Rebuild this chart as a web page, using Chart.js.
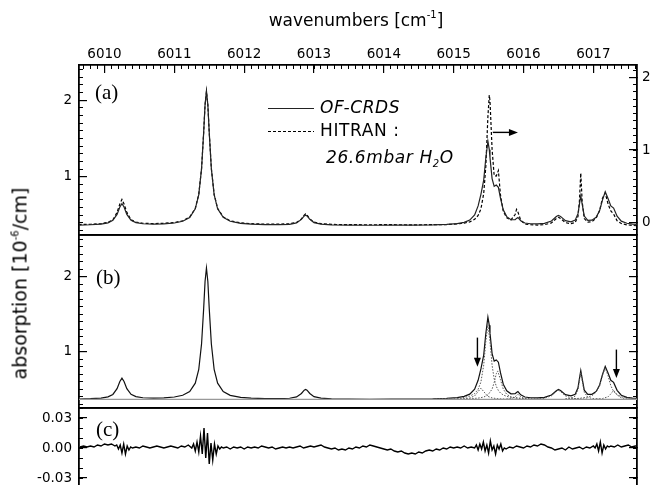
<!DOCTYPE html>
<html>
<head>
<meta charset="utf-8">
<script src="https://cdn.jsdelivr.net/npm/chart.js@4"></script>
<style>
  body { margin: 0; background: #fff; }
  #wrap { position: relative; width: 656px; height: 485px; overflow: hidden;
          font-family: "DejaVu Sans", sans-serif; color: #000; }
  canvas { position: absolute; left: 0; top: 0; }
  .txt { position: absolute; white-space: nowrap; line-height: 1; }
  .serif { font-family: "Liberation Serif", "DejaVu Serif", serif; font-size: 21px; }
  sup { font-size: 10px; vertical-align: 8px; }
  sub { font-size: 10px; vertical-align: -4px; }
  .key { position: absolute; width: 46px; height: 1px; }
  .leg { font-size: 17px; letter-spacing: 0.6px; }
</style>
</head>
<body>
<div id="wrap">
  <canvas id="panelA" width="656" height="485"></canvas>
  <canvas id="panelB" width="656" height="485"></canvas>
  <canvas id="panelC" width="656" height="485"></canvas>

  <div class="txt" style="left:256px;width:200px;top:10px;text-align:center;font-size:17px;">wavenumbers [cm<sup>-1</sup>]</div>
  <div class="txt" style="left:-100px;width:240px;top:274px;text-align:center;font-size:19px;transform:rotate(-90deg);">absorption [10<sup>-6</sup>/cm]</div>

  <div class="txt serif" style="left:95px;top:82px;">(a)</div>
  <div class="txt serif" style="left:96px;top:267px;">(b)</div>
  <div class="txt serif" style="left:96px;top:419px;">(c)</div>

  <div class="key" style="left:268px;top:108px;background:#222;height:1.3px;"></div>
  <div class="txt leg" style="left:320px;top:99px;font-style:italic;">OF-CRDS</div>
  <div class="key" style="left:268px;top:131px;background:repeating-linear-gradient(90deg,#000 0 3px,transparent 3px 5px);height:1.3px;"></div>
  <div class="txt leg" style="left:320px;top:122px;">HITRAN :</div>
  <div class="txt leg" style="left:326px;top:149px;font-style:italic;">26.6mbar H<sub>2</sub>O</div>
</div>

<script>
// wavenumber grid shared by the measured spectrum and the HITRAN simulation
const specX = [6009.63, 6009.8, 6009.95, 6010.05, 6010.12, 6010.18, 6010.22, 6010.25, 6010.28, 6010.32,
  6010.38, 6010.45, 6010.55, 6010.7, 6010.85, 6011.0, 6011.12, 6011.22, 6011.3, 6011.35,
  6011.39, 6011.42, 6011.44, 6011.46, 6011.48, 6011.5, 6011.53, 6011.57, 6011.62, 6011.7,
  6011.8, 6011.95, 6012.1, 6012.3, 6012.5, 6012.65, 6012.75, 6012.82, 6012.86, 6012.88,
  6012.9, 6012.94, 6013.0, 6013.1, 6013.25, 6013.5, 6013.8, 6014.1, 6014.4, 6014.7,
  6014.9, 6015.05, 6015.15, 6015.23, 6015.3, 6015.35, 6015.39, 6015.43, 6015.46, 6015.49,
  6015.51, 6015.52, 6015.55, 6015.58, 6015.61, 6015.64, 6015.67, 6015.71, 6015.76, 6015.82,
  6015.88, 6015.9, 6015.92, 6015.96, 6016.02, 6016.1, 6016.2, 6016.3, 6016.4, 6016.47,
  6016.5, 6016.53, 6016.6, 6016.68, 6016.74, 6016.78, 6016.8, 6016.82, 6016.84, 6016.87,
  6016.92, 6016.98, 6017.04, 6017.09, 6017.13, 6017.17, 6017.21, 6017.25, 6017.29, 6017.34,
  6017.4, 6017.48, 6017.56, 6017.63];

// OF-CRDS absorption, 10^-6/cm (left axis)
const ofcrds = [0.370, 0.374, 0.382, 0.399, 0.431, 0.509, 0.605, 0.649, 0.605, 0.509,
  0.432, 0.402, 0.387, 0.382, 0.386, 0.397, 0.420, 0.469, 0.582, 0.767,
  1.107, 1.577, 1.940, 2.120, 1.940, 1.577, 1.107, 0.767, 0.582, 0.470,
  0.419, 0.392, 0.381, 0.376, 0.375, 0.380, 0.398, 0.444, 0.489, 0.499,
  0.489, 0.444, 0.402, 0.381, 0.372, 0.368, 0.367, 0.368, 0.369, 0.372,
  0.379, 0.389, 0.405, 0.435, 0.501, 0.620, 0.771, 0.957, 1.242, 1.464,
  1.354, 1.250, 0.977, 0.876, 0.892, 0.862, 0.722, 0.568, 0.480, 0.439,
  0.440, 0.457, 0.469, 0.426, 0.397, 0.387, 0.386, 0.393, 0.423, 0.481,
  0.497, 0.483, 0.428, 0.412, 0.434, 0.519, 0.638, 0.750, 0.642, 0.488,
  0.431, 0.433, 0.471, 0.558, 0.696, 0.805, 0.717, 0.620, 0.592, 0.486,
  0.421, 0.393, 0.383, 0.378];

// HITRAN simulation for 26.6 mbar H2O (right axis)
const hitran = [-0.026, -0.022, -0.013, 0.004, 0.038, 0.142, 0.257, 0.320, 0.257, 0.142,
  0.039, 0.008, -0.008, -0.013, -0.009, 0.002, 0.026, 0.078, 0.196, 0.390,
  0.747, 1.239, 1.620, 1.803, 1.620, 1.239, 0.747, 0.390, 0.196, 0.079,
  0.025, -0.003, -0.014, -0.020, -0.021, -0.015, 0.003, 0.052, 0.104, 0.121,
  0.104, 0.052, 0.008, -0.014, -0.024, -0.028, -0.029, -0.028, -0.030, -0.028,
  -0.026, -0.018, -0.006, 0.011, 0.045, 0.099, 0.189, 0.401, 0.769, 1.457,
  1.756, 1.678, 1.011, 0.644, 0.642, 0.717, 0.381, 0.155, 0.067, 0.037,
  0.112, 0.182, 0.146, 0.033, -0.019, -0.029, -0.033, -0.028, -0.003, 0.057,
  0.076, 0.057, 0.000, -0.014, 0.002, 0.087, 0.286, 0.682, 0.289, 0.056,
  0.006, 0.014, 0.060, 0.168, 0.334, 0.408, 0.259, 0.160, 0.119, 0.026,
  -0.012, -0.030, -0.038, -0.043];

// single-line profiles of the fit, [wavenumber, absorption]
const fitBaseline = [[6009.63, 0.365], [6017.63, 0.365]];
const line15_39 = [[6015.05, 0.370], [6015.15, 0.374], [6015.23, 0.384], [6015.3, 0.411], [6015.35, 0.469],
  [6015.39, 0.515], [6015.43, 0.469], [6015.49, 0.405], [6015.55, 0.384], [6015.64, 0.373], [6015.76, 0.369], [6015.9, 0.367]];
const line15_49 = [[6014.7, 0.370], [6014.9, 0.374], [6015.05, 0.380], [6015.15, 0.390], [6015.23, 0.408],
  [6015.3, 0.442], [6015.35, 0.499], [6015.39, 0.598], [6015.43, 0.822], [6015.46, 1.136], [6015.49, 1.365],
  [6015.52, 1.136], [6015.55, 0.822], [6015.58, 0.637], [6015.61, 0.539], [6015.64, 0.484], [6015.67, 0.450],
  [6015.71, 0.424], [6015.76, 0.405], [6015.82, 0.392], [6015.92, 0.381], [6016.1, 0.373], [6016.3, 0.370]];
const line15_63 = [[6015.05, 0.369], [6015.23, 0.373], [6015.35, 0.382], [6015.43, 0.396], [6015.49, 0.424],
  [6015.55, 0.502], [6015.58, 0.590], [6015.61, 0.707], [6015.63, 0.745], [6015.67, 0.628], [6015.71, 0.502],
  [6015.76, 0.432], [6015.82, 0.399], [6015.92, 0.381], [6016.1, 0.371], [6016.3, 0.368]];
const line15_92 = [[6015.76, 0.369], [6015.82, 0.375], [6015.88, 0.400], [6015.92, 0.435], [6015.96, 0.400],
  [6016.02, 0.375], [6016.1, 0.368]];
const line16_50 = [[6016.1, 0.370], [6016.2, 0.373], [6016.3, 0.382], [6016.4, 0.412], [6016.47, 0.470],
  [6016.5, 0.485], [6016.53, 0.470], [6016.6, 0.412], [6016.68, 0.385], [6016.74, 0.375], [6016.82, 0.371], [6016.92, 0.369]];
const line16_82 = [[6016.6, 0.371], [6016.68, 0.380], [6016.74, 0.409], [6016.78, 0.495], [6016.8, 0.614],
  [6016.82, 0.725], [6016.84, 0.614], [6016.87, 0.460], [6016.92, 0.395], [6016.98, 0.377], [6017.09, 0.369]];
const line17_17 = [[6016.6, 0.371], [6016.8, 0.379], [6016.92, 0.396], [6016.98, 0.415], [6017.04, 0.460],
  [6017.09, 0.547], [6017.13, 0.682], [6017.17, 0.785], [6017.21, 0.682], [6017.25, 0.547], [6017.29, 0.472],
  [6017.34, 0.426], [6017.4, 0.400], [6017.48, 0.385], [6017.63, 0.375]];
const line17_29 = [[6017.04, 0.370], [6017.13, 0.376], [6017.21, 0.399], [6017.25, 0.438], [6017.29, 0.485],
  [6017.34, 0.425], [6017.4, 0.386], [6017.48, 0.373], [6017.63, 0.368]];

// fit residuals, 10^-6/cm
const residX = [6009.65, 6009.7, 6009.75, 6009.8, 6009.85, 6009.9, 6009.95, 6010.0, 6010.05, 6010.1,
  6010.15, 6010.175, 6010.2, 6010.225, 6010.25, 6010.275, 6010.3, 6010.325, 6010.35, 6010.375,
  6010.4, 6010.45, 6010.5, 6010.55, 6010.6, 6010.65, 6010.7, 6010.75, 6010.8, 6010.85,
  6010.9, 6010.95, 6011.0, 6011.05, 6011.1, 6011.15, 6011.2, 6011.25, 6011.275, 6011.3,
  6011.325, 6011.35, 6011.375, 6011.4, 6011.425, 6011.45, 6011.475, 6011.5, 6011.525, 6011.55,
  6011.575, 6011.6, 6011.625, 6011.65, 6011.675, 6011.7, 6011.75, 6011.8, 6011.85, 6011.9,
  6011.95, 6012.0, 6012.05, 6012.1, 6012.15, 6012.2, 6012.25, 6012.3, 6012.35, 6012.4,
  6012.45, 6012.5, 6012.55, 6012.6, 6012.65, 6012.7, 6012.75, 6012.8, 6012.85, 6012.9,
  6012.95, 6013.0, 6013.05, 6013.1, 6013.15, 6013.2, 6013.25, 6013.3, 6013.35, 6013.4,
  6013.45, 6013.5, 6013.55, 6013.6, 6013.65, 6013.7, 6013.75, 6013.8, 6013.85, 6013.9,
  6013.95, 6014.0, 6014.05, 6014.1, 6014.15, 6014.2, 6014.25, 6014.3, 6014.35, 6014.4,
  6014.45, 6014.5, 6014.55, 6014.6, 6014.65, 6014.7, 6014.75, 6014.8, 6014.85, 6014.9,
  6014.95, 6015.0, 6015.05, 6015.1, 6015.15, 6015.2, 6015.25, 6015.3, 6015.325, 6015.35,
  6015.375, 6015.4, 6015.425, 6015.45, 6015.475, 6015.5, 6015.525, 6015.55, 6015.575, 6015.6,
  6015.625, 6015.65, 6015.675, 6015.7, 6015.725, 6015.75, 6015.8, 6015.85, 6015.9, 6015.95,
  6016.0, 6016.05, 6016.1, 6016.15, 6016.2, 6016.25, 6016.3, 6016.35, 6016.4, 6016.45,
  6016.5, 6016.55, 6016.6, 6016.65, 6016.7, 6016.75, 6016.8, 6016.85, 6016.9, 6016.95,
  6017.0, 6017.025, 6017.05, 6017.075, 6017.1, 6017.125, 6017.15, 6017.175, 6017.2, 6017.225,
  6017.25, 6017.3, 6017.35, 6017.4, 6017.45, 6017.5, 6017.55, 6017.6, 6017.625];
const residual = [0.001, 0.002, 0.001, 0.002, 0.001, 0.003, 0.002, 0.004, 0.003, 0.004,
  0.002, 0.003, -0.001, 0.003, -0.005, 0.004, -0.006, 0.002, -0.002, 0.001,
  0.000, 0.001, 0.000, 0.002, 0.001, 0.000, 0.001, 0.002, 0.001, 0.000,
  0.001, 0.002, 0.001, 0.000, 0.002, 0.001, 0.003, 0.000, 0.004, -0.003,
  0.006, -0.004, 0.012, -0.006, 0.020, -0.010, 0.015, -0.016, 0.005, -0.012,
  0.004, -0.006, 0.002, -0.001, 0.001, 0.000, 0.001, -0.001, 0.001, 0.000,
  0.001, -0.001, 0.001, 0.000, 0.001, 0.000, 0.002, 0.001, 0.000, 0.001,
  -0.001, 0.000, 0.001, 0.000, 0.001, 0.000, 0.001, 0.002, 0.000, 0.001,
  0.002, 0.001, 0.002, 0.003, 0.001, 0.000, -0.001, 0.000, -0.002, -0.001,
  -0.002, 0.000, -0.001, 0.001, 0.000, 0.002, 0.001, 0.003, 0.002, 0.001,
  0.000, -0.001, -0.002, -0.001, -0.003, -0.004, -0.003, -0.005, -0.006, -0.005,
  -0.006, -0.004, -0.005, -0.003, -0.002, -0.003, -0.001, -0.002, 0.000, -0.001,
  0.001, 0.000, 0.001, 0.000, 0.002, 0.000, 0.001, 0.000, 0.003, -0.002,
  0.004, -0.001, 0.006, -0.003, 0.003, -0.005, 0.007, -0.002, 0.002, -0.006,
  0.003, -0.001, 0.004, -0.003, 0.000, -0.001, 0.001, 0.000, 0.002, 0.001,
  0.000, 0.002, 0.001, 0.003, 0.002, 0.004, 0.003, 0.001, 0.000, -0.002,
  -0.001, 0.000, -0.002, 0.001, -0.001, 0.000, 0.001, -0.001, 0.001, 0.000,
  0.002, 0.000, 0.004, -0.003, 0.006, -0.005, 0.003, -0.001, 0.002, 0.001,
  0.002, 0.001, 0.003, 0.001, 0.002, 0.003, 0.001, 0.002, 0.002];

const xMin = 6009.635, xMax = 6017.625;
const black = '#000';
const tickFont = { family: '"DejaVu Sans", sans-serif', size: 13.5 };

const toPoints = (xs, ys) => xs.map((x, i) => ({ x, y: ys[i] }));
const pairs = list => list.map(([x, y]) => ({ x, y }));

// fixed box size for an axis, without the extra room Chart.js keeps for end labels
function fixSize(size) {
  return s => {
    if (s.isHorizontal()) { s.height = size; s.paddingLeft = 0; s.paddingRight = 0; }
    else { s.width = size; s.paddingTop = 0; s.paddingBottom = 0; }
  };
}

// labelled axis with long inward ticks; size fixes where the plot area starts
function majorAxis(position, min, max, step, size, opts = {}) {
  return {
    type: 'linear', position, min, max, weight: 1,
    ticks: {
      stepSize: step, display: opts.labels !== false, autoSkip: false, includeBounds: false,
      padding: opts.padding || 0, color: black, font: tickFont,
      callback: opts.fmt || (v => v)
    },
    grid: { drawOnChartArea: false, drawTicks: opts.ticks !== false, tickLength: -8, color: black, lineWidth: 1.2 },
    border: { display: opts.border !== false, color: black, width: 1.8 },
    afterFit: fixSize(size)
  };
}

// unlabelled axis carrying the short inward minor ticks
function minorAxis(position, min, max, step) {
  return {
    type: 'linear', position, min, max, weight: 0,
    ticks: { stepSize: step, display: false, includeBounds: false },
    grid: { drawOnChartArea: false, tickLength: -4, color: black, lineWidth: 1 },
    border: { display: false },
    afterFit: fixSize(0)
  };
}

// arrows given in data coordinates of the chart they belong to
const arrowPlugin = {
  id: 'arrows',
  afterDatasetsDraw(chart, args, opts) {
    const { ctx } = chart;
    const xs = chart.scales.x, ys = chart.scales.y;
    (opts.list || []).forEach(a => {
      const x0 = xs.getPixelForValue(a.x0), y0 = ys.getPixelForValue(a.y0);
      const x1 = xs.getPixelForValue(a.x1), y1 = ys.getPixelForValue(a.y1);
      const ang = Math.atan2(y1 - y0, x1 - x0);
      ctx.save();
      ctx.strokeStyle = black; ctx.fillStyle = black; ctx.lineWidth = 1.4;
      ctx.beginPath(); ctx.moveTo(x0, y0); ctx.lineTo(x1 - 6 * Math.cos(ang), y1 - 6 * Math.sin(ang)); ctx.stroke();
      ctx.beginPath();
      ctx.moveTo(x1, y1);
      ctx.lineTo(x1 - 9 * Math.cos(ang) + 3.5 * Math.sin(ang), y1 - 9 * Math.sin(ang) - 3.5 * Math.cos(ang));
      ctx.lineTo(x1 - 9 * Math.cos(ang) - 3.5 * Math.sin(ang), y1 - 9 * Math.sin(ang) + 3.5 * Math.cos(ang));
      ctx.closePath(); ctx.fill();
      ctx.restore();
    });
  }
};

const baseOptions = {
  responsive: false, animation: false, devicePixelRatio: 1,
  layout: { padding: 0 },
  events: [],
  elements: { point: { radius: 0 }, line: { tension: 0 } },
};

const lineSet = (data, extra) => Object.assign({
  data, borderColor: black, borderWidth: 1.2, fill: false, pointRadius: 0
}, extra);

// (a) measured spectrum against HITRAN
new Chart(document.getElementById('panelA'), {
  type: 'line',
  data: {
    datasets: [
      lineSet(toPoints(specX, ofcrds), { xAxisID: 'x', yAxisID: 'y', borderColor: '#222' }),
      lineSet(toPoints(specX, hitran), { xAxisID: 'x', yAxisID: 'yR', borderDash: [3, 2] })
    ]
  },
  options: Object.assign({}, baseOptions, {
    plugins: { legend: { display: false }, tooltip: { enabled: false },
      arrows: { list: [{ x0: 6015.56, y0: 1.58, x1: 6015.92, y1: 1.58 }] } },
    scales: {
      x: majorAxis('top', xMin, xMax, 1, 65, { padding: 10 }),
      xm: minorAxis('top', xMin, xMax, 0.1),
      xb: majorAxis('bottom', xMin, xMax, 1, 250, { labels: false, ticks: false }),
      y: majorAxis('left', 0.24, 2.46, 1, 79, { padding: 15 }),
      ym: minorAxis('left', 0.24, 2.46, 0.1),
      yR: majorAxis('right', -0.17, 2.17, 1, 19, { padding: 13 }),
      yRm: minorAxis('right', -0.17, 2.17, 0.1)
    }
  }),
  plugins: [arrowPlugin]
});

// (b) fit with its individual line profiles
const dotted = { borderColor: '#555', borderWidth: 1, borderDash: [1.5, 1.5] };
new Chart(document.getElementById('panelB'), {
  type: 'line',
  data: {
    datasets: [
      lineSet(pairs(fitBaseline), { borderColor: '#999', borderWidth: 1.2 }),
      lineSet(pairs(line15_39), dotted),
      lineSet(pairs(line15_49), dotted),
      lineSet(pairs(line15_63), dotted),
      lineSet(pairs(line15_92), dotted),
      lineSet(pairs(line16_50), dotted),
      lineSet(pairs(line16_82), dotted),
      lineSet(pairs(line17_17), dotted),
      lineSet(pairs(line17_29), dotted),
      lineSet(toPoints(specX, ofcrds), { borderColor: '#111' })
    ]
  },
  options: Object.assign({}, baseOptions, {
    plugins: { legend: { display: false }, tooltip: { enabled: false },
      arrows: { list: [{ x0: 6015.34, y0: 1.19, x1: 6015.34, y1: 0.80 },
                       { x0: 6017.33, y0: 1.03, x1: 6017.33, y1: 0.65 }] } },
    scales: {
      x: majorAxis('top', xMin, xMax, 1, 235, { labels: false, ticks: false }),
      xb: majorAxis('bottom', xMin, xMax, 1, 77, { labels: false, ticks: false }),
      y: majorAxis('left', 0.25, 2.56, 1, 79, { padding: 15 }),
      ym: minorAxis('left', 0.25, 2.56, 0.1),
      yR: majorAxis('right', 0.25, 2.56, 1, 19, { labels: false }),
      yRm: minorAxis('right', 0.25, 2.56, 0.1)
    }
  }),
  plugins: [arrowPlugin]
});

// (c) residuals of the fit
const fmtRes = v => (Math.abs(v) < 1e-9 ? 0 : v).toFixed(2);
new Chart(document.getElementById('panelC'), {
  type: 'line',
  data: {
    datasets: [lineSet(toPoints(residX, residual), { borderWidth: 1.4 })]
  },
  options: Object.assign({}, baseOptions, {
    plugins: { legend: { display: false }, tooltip: { enabled: false } },
    scales: {
      x: majorAxis('top', xMin, xMax, 1, 408, { labels: false, ticks: false }),
      xb: majorAxis('bottom', xMin, xMax, 1, 0, { labels: false, ticks: false, border: false }),
      y: majorAxis('left', -0.037, 0.04, 0.03, 79, { padding: 15, fmt: fmtRes }),
      ym: minorAxis('left', -0.037, 0.04, 0.01),
      yR: majorAxis('right', -0.037, 0.04, 0.03, 19, { labels: false }),
      yRm: minorAxis('right', -0.037, 0.04, 0.01)
    }
  })
});
</script>
</body>
</html>
